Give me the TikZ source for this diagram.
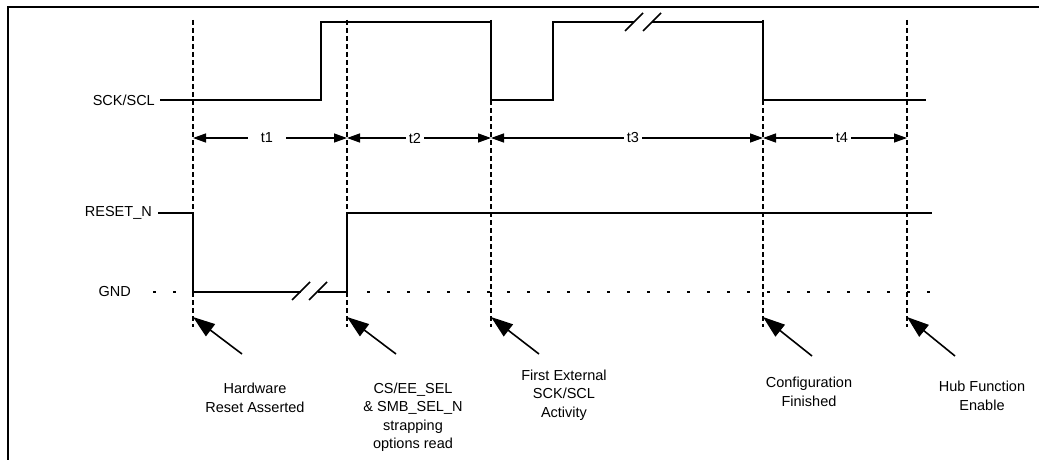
\documentclass[tikz,border=0pt]{standalone}
\usepackage{fontspec}
\setmainfont{Liberation Sans}
\usetikzlibrary{arrows.meta}
\begin{document}
\begin{tikzpicture}[x=1pt,y=-1pt,
  sig/.style={line width=1.8pt},
  vline/.style={line width=1.6pt, dash pattern=on 5pt off 3pt},
  gnd/.style={line width=1.8pt, dash pattern=on 2.5pt off 17.5pt},
  dimarr/.style={line width=1.4pt, -{Triangle[length=13pt,width=9pt]}},
  ptr/.style={line width=1.6pt, -{Triangle[length=22pt,width=15pt]}},
  lbl/.style={font=\fontsize{14.5}{18.5}\selectfont, inner sep=0pt},
  ev/.style={lbl, align=center},
  brk/.style={line width=1.6pt},
]
\useasboundingbox (0,0) rectangle (1039,460);
\draw[line width=2pt] (8,460) -- (8,7) -- (1039,7);

% vertical markers
\foreach \n/\x in {1/193,2/347,3/491,4/763,5/907}{
  \coordinate (top\n) at (\x,20);
  \coordinate (bot\n) at (\x,327);
  \coordinate (dim\n) at (\x,138);
  \coordinate (tip\n) at (\x,317);
  \draw[vline] (top\n) -- (bot\n);
}

% signal labels
\node[lbl, anchor=east] (sck) at (155,100) {SCK/SCL};
\node[lbl, anchor=east] (rst) at (152,213) {RESET\_N};
\node[lbl, anchor=east] (gnd) at (131,292) {GND};

% SCK/SCL waveform
\draw[sig] (160,100) -- (321,100) -- (321,22) -- (491,22) -- (491,100) -- (553,100) -- (553,22) -- (634,22);
\draw[sig] (652,22) -- (763,22) -- (763,100) -- (926,100);
\draw[brk] (625,31) -- (643,13);
\draw[brk] (643,31) -- (661,13);

% GND dotted
\draw[gnd] (153,292) -- (193,292);
\draw[gnd] (367,292) -- (930,292);

% RESET_N waveform
\draw[sig] (158,213) -- (193,213) -- (193,292) -- (301,292);
\draw[sig] (318,292) -- (347,292) -- (347,213) -- (932,213);
\draw[brk] (292,300) -- (310,282);
\draw[brk] (309,300) -- (327,282);

% timing dimensions
\node[lbl, inner sep=13pt] (t1) at (267,138) {t1};
\node[lbl, inner sep=3pt] (t2) at (415,138) {t2};
\node[lbl, inner sep=3pt] (t3) at (633,138) {t3};
\node[lbl, inner sep=3pt] (t4) at (842,138) {t4};
\draw[dimarr] (t1) -- (dim1);
\draw[dimarr] (t1) -- (dim2);
\draw[dimarr] (t2) -- (dim2);
\draw[dimarr] (t2) -- (dim3);
\draw[dimarr] (t3) -- (dim3);
\draw[dimarr] (t3) -- (dim4);
\draw[dimarr] (t4) -- (dim4);
\draw[dimarr] (t4) -- (dim5);

% event pointers
\coordinate (tail1) at (242,354);
\coordinate (tail2) at (396,354);
\coordinate (tail3) at (539,354);
\coordinate (tail4) at (812,356);
\coordinate (tail5) at (955,356);
\foreach \n in {1,...,5}{ \draw[ptr] (tail\n) -- (tip\n); }

% event labels
\node[ev] (e1) at (255,398) {Hardware\\Reset Asserted};
\node[ev] (e2) at (413,417) {CS/EE\_SEL\\\& SMB\_SEL\_N\\strapping\\options read};
\node[ev] (e3) at (564,395) {First External\\SCK/SCL\\Activity};
\node[ev] (e4) at (809,392) {Configuration\\Finished};
\node[ev] (e5) at (982,396) {Hub Function\\Enable};
\end{tikzpicture}
\end{document}
